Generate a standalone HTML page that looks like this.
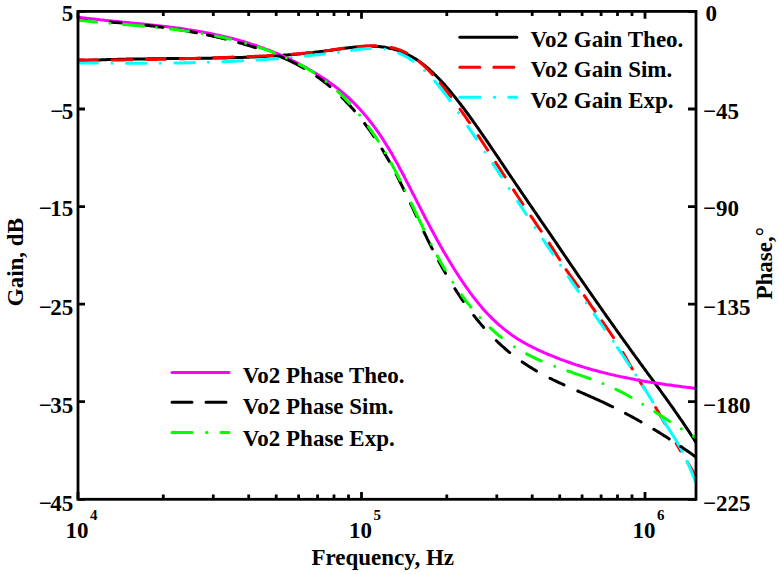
<!DOCTYPE html><html><head><meta charset="utf-8"><style>html,body{margin:0;padding:0;background:#fff;width:779px;height:574px;overflow:hidden}svg{display:block}text{font-family:"Liberation Serif",serif;font-weight:bold}</style></head><body>
<svg width="779" height="574" viewBox="0 0 779 574">
<rect width="779" height="574" fill="#fff"/>
<defs><clipPath id="c"><rect x="78.0" y="11.4" width="618.0" height="487.90000000000003"/></clipPath></defs>
<g clip-path="url(#c)" fill="none" stroke-width="3" stroke-linejoin="round" stroke-linecap="round">
<path d="M76.0,60.9 L77.5,60.8 L79.0,60.8 L80.5,60.7 L82.0,60.6 L83.5,60.5 L85.0,60.5 L86.5,60.4 L88.0,60.3 L89.5,60.3 L91.0,60.2 L92.5,60.1 L94.0,60.1 L95.5,60.0 L97.0,60.0 L98.5,59.9 L100.0,59.9 L101.5,59.8 L103.0,59.8 L104.5,59.7 L106.0,59.7 L107.5,59.6 L109.0,59.6 L110.5,59.5 L112.0,59.5 L113.5,59.4 L115.0,59.4 L116.5,59.4 L118.0,59.3 L119.5,59.3 L121.0,59.3 L122.5,59.2 L124.0,59.2 L125.5,59.2 L127.0,59.1 L128.5,59.1 L130.0,59.1 L131.5,59.1 L133.0,59.0 L134.5,59.0 L136.0,59.0 L137.5,59.0 L139.0,59.0 L140.5,58.9 L142.0,58.9 L143.5,58.9 L145.0,58.9 L146.5,58.9 L148.0,58.8 L149.5,58.8 L151.0,58.8 L152.5,58.8 L154.0,58.8 L155.5,58.8 L157.0,58.7 L158.5,58.7 L160.0,58.7 L161.5,58.7 L163.0,58.7 L164.5,58.7 L166.0,58.7 L167.5,58.6 L169.0,58.6 L170.5,58.6 L172.0,58.6 L173.5,58.6 L175.0,58.6 L176.5,58.6 L178.0,58.6 L179.5,58.5 L181.0,58.5 L182.5,58.5 L184.0,58.5 L185.5,58.5 L187.0,58.5 L188.5,58.5 L190.0,58.4 L191.5,58.4 L193.0,58.4 L194.5,58.4 L196.0,58.4 L197.5,58.4 L199.0,58.3 L200.5,58.3 L202.0,58.3 L203.5,58.3 L205.0,58.3 L206.5,58.2 L208.0,58.2 L209.5,58.2 L211.0,58.2 L212.5,58.1 L214.0,58.1 L215.5,58.1 L217.0,58.1 L218.5,58.0 L220.0,58.0 L221.5,58.0 L223.0,57.9 L224.5,57.9 L226.0,57.9 L227.5,57.8 L229.0,57.8 L230.5,57.7 L232.0,57.7 L233.5,57.7 L235.0,57.6 L236.5,57.6 L238.0,57.5 L239.5,57.5 L241.0,57.4 L242.5,57.4 L244.0,57.3 L245.5,57.3 L247.0,57.2 L248.5,57.2 L250.0,57.1 L251.5,57.0 L253.0,57.0 L254.5,56.9 L256.0,56.8 L257.5,56.8 L259.0,56.7 L260.5,56.6 L262.0,56.5 L263.5,56.5 L265.0,56.4 L266.5,56.3 L268.0,56.2 L269.5,56.1 L271.0,56.0 L272.5,56.0 L274.0,55.9 L275.5,55.8 L277.0,55.7 L278.5,55.6 L280.0,55.5 L281.5,55.4 L283.0,55.3 L284.5,55.1 L286.0,55.0 L287.5,54.9 L289.0,54.8 L290.5,54.7 L292.0,54.5 L293.5,54.4 L295.0,54.3 L296.5,54.2 L298.0,54.0 L299.5,53.9 L301.0,53.7 L302.5,53.6 L304.0,53.4 L305.5,53.3 L307.0,53.1 L308.5,53.0 L310.0,52.8 L311.5,52.7 L313.0,52.5 L314.5,52.3 L316.0,52.1 L317.5,52.0 L319.0,51.8 L320.5,51.6 L322.0,51.4 L323.5,51.2 L325.0,51.0 L326.5,50.8 L328.0,50.6 L329.5,50.4 L331.0,50.2 L332.5,50.0 L334.0,49.8 L335.5,49.6 L337.0,49.4 L338.5,49.1 L340.0,48.9 L341.5,48.7 L343.0,48.5 L344.5,48.3 L346.0,48.1 L347.5,47.9 L349.0,47.7 L350.5,47.5 L352.0,47.4 L353.5,47.2 L355.0,47.0 L356.5,46.9 L358.0,46.8 L359.5,46.6 L361.0,46.5 L362.5,46.4 L364.0,46.4 L365.5,46.3 L367.0,46.3 L368.5,46.2 L370.0,46.2 L371.5,46.2 L373.0,46.3 L374.5,46.3 L376.0,46.4 L377.5,46.5 L379.0,46.6 L380.5,46.7 L382.0,46.9 L383.5,47.1 L385.0,47.3 L386.5,47.6 L388.0,47.9 L389.5,48.2 L391.0,48.5 L392.5,48.9 L394.0,49.3 L395.5,49.7 L397.0,50.2 L398.5,50.7 L400.0,51.2 L401.5,51.8 L403.0,52.4 L404.5,53.1 L406.0,53.7 L407.5,54.5 L409.0,55.2 L410.5,56.0 L412.0,56.8 L413.5,57.7 L415.0,58.6 L416.5,59.6 L418.0,60.6 L419.5,61.6 L421.0,62.7 L422.5,63.8 L424.0,65.0 L425.5,66.2 L427.0,67.4 L428.5,68.7 L430.0,70.1 L431.5,71.4 L433.0,72.8 L434.5,74.3 L436.0,75.7 L437.5,77.2 L439.0,78.8 L440.5,80.4 L442.0,82.0 L443.5,83.6 L445.0,85.3 L446.5,87.0 L448.0,88.7 L449.5,90.5 L451.0,92.3 L452.5,94.1 L454.0,95.9 L455.5,97.8 L457.0,99.7 L458.5,101.6 L460.0,103.5 L461.5,105.5 L463.0,107.4 L464.5,109.4 L466.0,111.5 L467.5,113.5 L469.0,115.5 L470.5,117.6 L472.0,119.7 L473.5,121.8 L475.0,123.9 L476.5,126.0 L478.0,128.2 L479.5,130.3 L481.0,132.5 L482.5,134.7 L484.0,136.8 L485.5,139.0 L487.0,141.2 L488.5,143.4 L490.0,145.6 L491.5,147.8 L493.0,150.0 L494.5,152.3 L496.0,154.5 L497.5,156.7 L499.0,158.9 L500.5,161.2 L502.0,163.4 L503.5,165.6 L505.0,167.9 L506.5,170.1 L508.0,172.3 L509.5,174.6 L511.0,176.8 L512.5,179.0 L514.0,181.3 L515.5,183.5 L517.0,185.7 L518.5,187.9 L520.0,190.1 L521.5,192.3 L523.0,194.5 L524.5,196.7 L526.0,198.9 L527.5,201.1 L529.0,203.3 L530.5,205.5 L532.0,207.7 L533.5,209.9 L535.0,212.0 L536.5,214.2 L538.0,216.4 L539.5,218.6 L541.0,220.8 L542.5,223.0 L544.0,225.2 L545.5,227.3 L547.0,229.5 L548.5,231.7 L550.0,233.9 L551.5,236.1 L553.0,238.3 L554.5,240.5 L556.0,242.7 L557.5,244.9 L559.0,247.1 L560.5,249.3 L562.0,251.6 L563.5,253.8 L565.0,256.0 L566.5,258.2 L568.0,260.4 L569.5,262.6 L571.0,264.8 L572.5,267.0 L574.0,269.2 L575.5,271.4 L577.0,273.6 L578.5,275.8 L580.0,278.0 L581.5,280.1 L583.0,282.3 L584.5,284.5 L586.0,286.7 L587.5,288.8 L589.0,291.0 L590.5,293.2 L592.0,295.3 L593.5,297.5 L595.0,299.7 L596.5,301.8 L598.0,303.9 L599.5,306.1 L601.0,308.2 L602.5,310.4 L604.0,312.5 L605.5,314.6 L607.0,316.8 L608.5,318.9 L610.0,321.0 L611.5,323.1 L613.0,325.2 L614.5,327.3 L616.0,329.5 L617.5,331.6 L619.0,333.7 L620.5,335.8 L622.0,337.9 L623.5,340.0 L625.0,342.0 L626.5,344.1 L628.0,346.2 L629.5,348.3 L631.0,350.4 L632.5,352.5 L634.0,354.5 L635.5,356.6 L637.0,358.7 L638.5,360.7 L640.0,362.8 L641.5,364.8 L643.0,366.9 L644.5,369.0 L646.0,371.0 L647.5,373.1 L649.0,375.1 L650.5,377.1 L652.0,379.2 L653.5,381.2 L655.0,383.3 L656.5,385.3 L658.0,387.4 L659.5,389.4 L661.0,391.5 L662.5,393.6 L664.0,395.6 L665.5,397.7 L667.0,399.8 L668.5,401.9 L670.0,404.0 L671.5,406.1 L673.0,408.2 L674.5,410.3 L676.0,412.5 L677.5,414.6 L679.0,416.8 L680.5,419.0 L682.0,421.2 L683.5,423.4 L685.0,425.6 L686.5,427.9 L688.0,430.1 L689.5,432.4 L691.0,434.7 L692.5,437.0 L694.0,439.3 L695.5,441.7 L697.0,444.1" stroke="#000"/>
<path d="M77.5,59.8 L78.0,59.8 L79.5,59.8 L81.0,59.8 L82.5,59.8 L84.0,59.8 L85.5,59.9 L87.0,59.9 L88.5,59.9 L90.0,59.9 L91.5,59.9 L93.0,59.9 L94.5,59.9 L96.0,59.9 L97.4,59.9 M111.9,59.9 L112.5,59.9 L114.0,59.9 L115.5,59.9 L117.0,59.9 L118.5,59.9 L120.0,59.9 L121.5,59.9 L123.0,59.9 L124.5,59.8 L126.0,59.8 L127.5,59.8 L129.0,59.8 L130.5,59.8 L131.9,59.8 M146.5,59.5 L147.0,59.5 L148.5,59.5 L150.0,59.5 L151.5,59.5 L153.0,59.4 L154.5,59.4 L156.0,59.4 L157.5,59.3 L159.0,59.3 L160.5,59.3 L162.0,59.2 L163.5,59.2 L165.0,59.2 L165.0,59.2 M180.0,58.8 L181.5,58.8 L183.0,58.7 L184.5,58.7 L186.0,58.6 L187.5,58.6 L189.0,58.5 L190.5,58.5 L192.0,58.5 L193.5,58.4 L195.0,58.4 L196.5,58.3 L198.0,58.3 L199.5,58.2 L199.5,58.2 M214.0,57.8 L214.5,57.8 L216.0,57.7 L217.5,57.7 L219.0,57.6 L220.5,57.6 L222.0,57.5 L223.5,57.5 L225.0,57.4 L226.5,57.4 L228.0,57.3 L229.5,57.3 L231.0,57.2 L232.5,57.1 L233.5,57.1 M247.7,56.6 L249.0,56.6 L250.5,56.5 L252.0,56.4 L253.5,56.4 L255.0,56.3 L256.5,56.3 L258.0,56.2 L259.5,56.1 L261.0,56.1 L262.5,56.0 L264.0,55.9 L265.5,55.9 L267.0,55.8 L268.5,55.7 L270.0,55.6 L271.5,55.6 L273.0,55.5 L273.0,55.5 M291.8,54.3 L292.5,54.2 L294.0,54.1 L295.5,54.0 L297.0,53.9 L298.5,53.7 L300.0,53.6 L301.5,53.5 L303.0,53.3 L304.5,53.2 L306.0,53.0 L307.5,52.9 L309.0,52.7 L310.5,52.6 L311.4,52.5 M325.0,50.9 L325.5,50.8 L327.0,50.6 L328.5,50.4 L330.0,50.2 L331.5,49.9 L333.0,49.7 L334.5,49.5 L336.0,49.3 L337.5,49.1 L339.0,48.9 L340.5,48.7 L342.0,48.4 L343.3,48.3 M357.7,46.6 L358.5,46.5 L360.0,46.4 L361.5,46.3 L363.0,46.2 L364.5,46.1 L366.0,46.0 L367.5,45.9 L369.0,45.9 L370.5,45.8 L372.0,45.8 L373.5,45.8 L375.0,45.8 L376.5,45.9 L376.7,45.9 M390.9,47.4 L391.5,47.5 L393.0,47.9 L394.5,48.3 L396.0,48.7 L397.5,49.1 L399.0,49.6 L400.5,50.2 L402.0,50.8 L403.5,51.5 L405.0,52.2 L406.5,53.0 L406.9,53.2 M418.7,61.2 L420.0,62.3 L421.5,63.6 L423.0,64.9 L424.5,66.3 L426.0,67.8 L427.5,69.2 L429.0,70.7 L430.5,72.3 L432.0,73.9 L432.5,74.4 M440.3,83.2 L441.0,84.1 L442.5,85.9 L444.0,87.8 L445.5,89.7 L447.0,91.6 L448.5,93.5 L450.0,95.5 L450.9,96.7 M460.1,109.2 L460.5,109.8 L462.0,111.9 L463.5,114.1 L465.0,116.2 L466.5,118.4 L468.0,120.6 L469.5,122.7 M478.1,135.6 L478.5,136.1 L480.0,138.4 L481.5,140.6 L483.0,142.9 L484.5,145.2 L486.0,147.5 L487.5,149.8 L487.7,150.1 M495.6,162.3 L496.5,163.7 L498.0,166.0 L499.5,168.3 L501.0,170.6 L502.5,173.0 L504.0,175.3 L505.1,177.0 M513.5,189.9 L514.5,191.4 L516.0,193.7 L517.5,196.0 L519.0,198.3 L520.5,200.6 L522.0,202.8 L523.0,204.3 M530.9,216.1 L532.5,218.4 L534.0,220.6 L535.5,222.9 L537.0,225.1 L538.5,227.3 L540.0,229.5 L541.2,231.2 M549.1,243.2 L550.5,245.3 L552.0,247.6 L553.5,249.9 L555.0,252.3 L556.5,254.6 L558.0,257.0 L559.5,259.4 L559.7,259.7 M566.1,269.7 L567.0,270.9 L568.5,273.1 L570.0,275.2 L571.5,277.2 L573.0,279.3 L574.5,281.4 L576.0,283.5 L577.5,285.6 L578.5,286.9 M584.3,295.7 L585.0,296.7 L586.5,298.9 L588.0,301.1 L589.5,303.3 L591.0,305.5 L592.5,307.6 L594.0,309.7 L595.1,311.3 M601.9,320.8 L603.0,322.4 L604.5,324.5 L606.0,326.7 L607.5,328.9 L609.0,331.0 L610.5,333.2 L612.0,335.5 L613.5,337.7 M622.9,352.6 L624.0,354.5 L625.5,357.1 L627.0,359.7 L628.5,362.3 L630.0,364.9 L631.5,367.5 L632.3,368.9 M639.1,380.1 L640.5,382.4 L642.0,384.7 L643.5,387.0 L644.9,389.3 M655.7,407.5 L657.0,409.7 L658.5,412.3 L660.0,415.0 L661.5,417.7 L663.0,420.3 L664.5,423.0 L665.0,423.8 M676.2,443.4 L676.5,444.0 L678.0,446.5 L679.5,449.1 L680.6,450.9 M687.3,461.9 L688.5,463.9 L690.0,466.4 L691.5,468.9 L693.0,471.5 L694.5,474.0 L696.0,476.6 L697.3,478.7" stroke="#f00"/>
<path d="M77.5,62.8 L78.0,62.8 L79.5,62.8 L81.0,62.9 L82.5,62.9 L84.0,62.9 L85.5,62.9 L87.0,62.9 L88.5,62.9 L90.0,63.0 L91.5,63.0 L93.0,63.0 L94.5,63.0 L96.0,63.0 L97.4,63.0 M126.5,63.2 L127.5,63.2 L129.0,63.2 L130.5,63.2 L132.0,63.2 L133.5,63.2 L135.0,63.2 L136.5,63.2 L138.0,63.2 L139.5,63.2 L141.0,63.2 L142.5,63.2 L144.0,63.2 L145.5,63.2 L146.0,63.2 M174.8,63.0 L175.5,63.0 L177.0,63.0 L178.5,62.9 L180.0,62.9 L181.5,62.9 L183.0,62.9 L184.5,62.8 L186.0,62.8 L187.5,62.8 L189.0,62.8 L190.5,62.7 L192.0,62.7 L193.5,62.7 L194.3,62.6 M222.7,61.8 L223.5,61.7 L225.0,61.7 L226.5,61.6 L228.0,61.5 L229.5,61.5 L231.0,61.4 L232.5,61.3 L234.0,61.3 L235.5,61.2 L237.0,61.1 L238.5,61.0 L240.0,61.0 L241.5,60.9 L242.6,60.8 M256.9,60.0 L258.0,59.9 L259.5,59.8 L261.0,59.8 L262.5,59.7 L264.0,59.6 L265.5,59.4 L267.0,59.3 L268.5,59.2 L270.0,59.1 L271.5,59.0 L273.0,58.9 L274.5,58.8 L276.0,58.7 L277.5,58.6 L277.5,58.6 M305.2,56.1 L306.0,56.0 L307.5,55.8 L309.0,55.7 L310.5,55.5 L312.0,55.3 L313.5,55.2 L315.0,55.0 L316.5,54.8 L318.0,54.7 L319.5,54.5 L321.0,54.3 L322.5,54.2 L324.0,54.0 L324.5,53.9 M351.5,50.4 L352.5,50.3 L354.0,50.1 L355.5,49.9 L357.0,49.7 L358.5,49.5 L360.0,49.3 L361.5,49.1 L363.0,48.9 L364.5,48.8 L366.0,48.7 L367.5,48.6 L369.0,48.5 L370.5,48.4 L370.5,48.4 M398.6,53.1 L399.0,53.2 L400.5,53.9 L402.0,54.6 L403.5,55.3 L405.0,56.1 L406.5,56.9 L408.0,57.8 L409.5,58.7 L411.0,59.7 L412.5,60.7 L413.3,61.2 M434.8,81.1 L435.0,81.4 L436.5,83.1 L438.0,84.9 L439.5,86.8 L441.0,88.7 L442.5,90.6 L444.0,92.5 L445.5,94.5 L447.0,96.6 L448.5,98.6 L449.9,100.6 M467.7,126.3 L468.0,126.6 L469.5,128.8 L471.0,131.0 L472.5,133.3 L474.0,135.5 L475.5,137.7 L476.5,139.1 M492.8,163.7 L493.5,164.7 L495.0,167.0 L496.5,169.2 L498.0,171.5 L499.5,173.8 L501.0,176.1 L501.6,176.9 M517.7,201.4 L519.0,203.3 L520.5,205.6 L522.0,207.9 L523.5,210.2 L525.0,212.4 L526.5,214.6 M542.8,239.2 L544.5,241.6 L546.0,243.9 L547.5,246.1 L549.0,248.3 L550.5,250.5 L552.0,252.8 L553.0,254.2 M568.2,276.6 L568.5,277.0 L570.0,279.2 L571.5,281.4 L573.0,283.6 L574.5,285.7 L576.0,287.9 L577.5,290.1 L578.4,291.5 M594.2,314.1 L595.5,316.0 L597.0,318.1 L598.5,320.3 L600.0,322.4 L601.5,324.6 L603.0,326.7 L604.5,328.9 L604.6,329.1 M617.4,347.6 L618.0,348.4 L619.5,350.6 L621.0,352.8 L622.5,355.0 L624.0,357.2 L625.5,359.4 L627.0,361.7 L628.5,363.9 L630.0,366.1 M642.8,385.9 L643.5,387.0 L645.0,389.4 L646.5,391.8 L648.0,394.2 L649.5,396.6 L651.0,399.1 L652.5,401.6 L652.7,402.0 M661.5,417.1 L663.0,419.7 L664.5,422.2 L666.0,424.6 L667.5,427.0 L669.0,429.3 L670.5,431.7 L672.0,434.0 L673.5,436.3 L675.0,438.7 L676.5,441.2 L678.0,443.7 L679.5,446.3 L681.0,449.0 L682.4,451.7 M687.0,461.4 L688.5,464.7 L690.0,468.2 L691.5,471.7 L693.0,475.3 L694.5,478.9 L696.0,482.5 L697.4,486.0 M112.0,63.2 l0.01,0 M160.2,63.2 l0.01,0 M208.3,62.3 l0.01,0 M291.3,57.4 l0.01,0 M338.3,52.2 l0.01,0 M385.0,49.1 l0.01,0 M424.5,70.4 l0.01,0 M458.5,112.8 l0.01,0 M485.0,151.9 l0.01,0 M509.2,188.5 l0.01,0 M535.0,227.5 l0.01,0 M560.5,265.3 l0.01,0 M586.3,302.8 l0.01,0 M613.1,341.3 l0.01,0 M635.8,375.0 l0.01,0" stroke="#0ff"/>
<path d="M76.0,16.9 L77.5,17.1 L79.0,17.3 L80.5,17.5 L82.0,17.7 L83.5,17.9 L85.0,18.1 L86.5,18.3 L88.0,18.4 L89.5,18.6 L91.0,18.8 L92.5,19.0 L94.0,19.1 L95.5,19.3 L97.0,19.5 L98.5,19.6 L100.0,19.8 L101.5,19.9 L103.0,20.1 L104.5,20.3 L106.0,20.4 L107.5,20.6 L109.0,20.7 L110.5,20.9 L112.0,21.0 L113.5,21.2 L115.0,21.3 L116.5,21.5 L118.0,21.6 L119.5,21.8 L121.0,21.9 L122.5,22.1 L124.0,22.2 L125.5,22.3 L127.0,22.5 L128.5,22.6 L130.0,22.8 L131.5,22.9 L133.0,23.1 L134.5,23.2 L136.0,23.4 L137.5,23.5 L139.0,23.7 L140.5,23.8 L142.0,24.0 L143.5,24.1 L145.0,24.3 L146.5,24.4 L148.0,24.6 L149.5,24.7 L151.0,24.9 L152.5,25.1 L154.0,25.2 L155.5,25.4 L157.0,25.6 L158.5,25.7 L160.0,25.9 L161.5,26.1 L163.0,26.2 L164.5,26.4 L166.0,26.6 L167.5,26.8 L169.0,27.0 L170.5,27.2 L172.0,27.4 L173.5,27.5 L175.0,27.7 L176.5,27.9 L178.0,28.1 L179.5,28.3 L181.0,28.6 L182.5,28.8 L184.0,29.0 L185.5,29.2 L187.0,29.4 L188.5,29.7 L190.0,29.9 L191.5,30.1 L193.0,30.4 L194.5,30.6 L196.0,30.9 L197.5,31.1 L199.0,31.4 L200.5,31.6 L202.0,31.9 L203.5,32.2 L205.0,32.5 L206.5,32.7 L208.0,33.0 L209.5,33.3 L211.0,33.6 L212.5,33.9 L214.0,34.2 L215.5,34.6 L217.0,34.9 L218.5,35.2 L220.0,35.5 L221.5,35.9 L223.0,36.2 L224.5,36.6 L226.0,36.9 L227.5,37.3 L229.0,37.7 L230.5,38.0 L232.0,38.4 L233.5,38.8 L235.0,39.2 L236.5,39.6 L238.0,40.0 L239.5,40.4 L241.0,40.9 L242.5,41.3 L244.0,41.7 L245.5,42.2 L247.0,42.6 L248.5,43.1 L250.0,43.6 L251.5,44.1 L253.0,44.6 L254.5,45.0 L256.0,45.5 L257.5,46.1 L259.0,46.6 L260.5,47.1 L262.0,47.6 L263.5,48.2 L265.0,48.8 L266.5,49.3 L268.0,49.9 L269.5,50.5 L271.0,51.1 L272.5,51.7 L274.0,52.3 L275.5,52.9 L277.0,53.5 L278.5,54.2 L280.0,54.8 L281.5,55.5 L283.0,56.1 L284.5,56.8 L286.0,57.5 L287.5,58.2 L289.0,58.9 L290.5,59.6 L292.0,60.4 L293.5,61.1 L295.0,61.8 L296.5,62.6 L298.0,63.4 L299.5,64.2 L301.0,65.0 L302.5,65.8 L304.0,66.6 L305.5,67.4 L307.0,68.3 L308.5,69.1 L310.0,70.0 L311.5,70.8 L313.0,71.7 L314.5,72.6 L316.0,73.5 L317.5,74.5 L319.0,75.4 L320.5,76.4 L322.0,77.3 L323.5,78.3 L325.0,79.3 L326.5,80.3 L328.0,81.3 L329.5,82.4 L331.0,83.5 L332.5,84.6 L334.0,85.7 L335.5,86.8 L337.0,88.0 L338.5,89.2 L340.0,90.4 L341.5,91.6 L343.0,92.9 L344.5,94.2 L346.0,95.5 L347.5,96.8 L349.0,98.2 L350.5,99.6 L352.0,101.1 L353.5,102.5 L355.0,104.1 L356.5,105.6 L358.0,107.2 L359.5,108.8 L361.0,110.4 L362.5,112.1 L364.0,113.9 L365.5,115.6 L367.0,117.4 L368.5,119.3 L370.0,121.2 L371.5,123.1 L373.0,125.1 L374.5,127.1 L376.0,129.2 L377.5,131.3 L379.0,133.4 L380.5,135.6 L382.0,137.9 L383.5,140.2 L385.0,142.6 L386.5,145.0 L388.0,147.4 L389.5,149.9 L391.0,152.5 L392.5,155.1 L394.0,157.7 L395.5,160.4 L397.0,163.1 L398.5,165.9 L400.0,168.7 L401.5,171.5 L403.0,174.3 L404.5,177.2 L406.0,180.1 L407.5,183.0 L409.0,185.9 L410.5,188.8 L412.0,191.8 L413.5,194.7 L415.0,197.7 L416.5,200.6 L418.0,203.6 L419.5,206.5 L421.0,209.4 L422.5,212.4 L424.0,215.3 L425.5,218.2 L427.0,221.1 L428.5,223.9 L430.0,226.7 L431.5,229.6 L433.0,232.3 L434.5,235.1 L436.0,237.8 L437.5,240.6 L439.0,243.3 L440.5,245.9 L442.0,248.6 L443.5,251.2 L445.0,253.8 L446.5,256.3 L448.0,258.8 L449.5,261.3 L451.0,263.8 L452.5,266.3 L454.0,268.7 L455.5,271.0 L457.0,273.4 L458.5,275.7 L460.0,278.0 L461.5,280.3 L463.0,282.5 L464.5,284.7 L466.0,286.8 L467.5,288.9 L469.0,291.0 L470.5,293.1 L472.0,295.1 L473.5,297.1 L475.0,299.0 L476.5,300.9 L478.0,302.8 L479.5,304.6 L481.0,306.4 L482.5,308.2 L484.0,309.9 L485.5,311.6 L487.0,313.2 L488.5,314.8 L490.0,316.3 L491.5,317.9 L493.0,319.3 L494.5,320.8 L496.0,322.2 L497.5,323.5 L499.0,324.9 L500.5,326.2 L502.0,327.4 L503.5,328.7 L505.0,329.9 L506.5,331.0 L508.0,332.2 L509.5,333.3 L511.0,334.4 L512.5,335.4 L514.0,336.4 L515.5,337.4 L517.0,338.4 L518.5,339.4 L520.0,340.3 L521.5,341.2 L523.0,342.1 L524.5,342.9 L526.0,343.8 L527.5,344.6 L529.0,345.4 L530.5,346.2 L532.0,346.9 L533.5,347.7 L535.0,348.4 L536.5,349.2 L538.0,349.9 L539.5,350.6 L541.0,351.2 L542.5,351.9 L544.0,352.6 L545.5,353.2 L547.0,353.9 L548.5,354.5 L550.0,355.1 L551.5,355.7 L553.0,356.3 L554.5,356.9 L556.0,357.5 L557.5,358.1 L559.0,358.7 L560.5,359.3 L562.0,359.8 L563.5,360.4 L565.0,360.9 L566.5,361.5 L568.0,362.0 L569.5,362.5 L571.0,363.0 L572.5,363.6 L574.0,364.1 L575.5,364.6 L577.0,365.0 L578.5,365.5 L580.0,366.0 L581.5,366.5 L583.0,366.9 L584.5,367.4 L586.0,367.8 L587.5,368.3 L589.0,368.7 L590.5,369.2 L592.0,369.6 L593.5,370.0 L595.0,370.4 L596.5,370.8 L598.0,371.2 L599.5,371.6 L601.0,372.0 L602.5,372.4 L604.0,372.8 L605.5,373.1 L607.0,373.5 L608.5,373.9 L610.0,374.2 L611.5,374.6 L613.0,374.9 L614.5,375.3 L616.0,375.6 L617.5,375.9 L619.0,376.3 L620.5,376.6 L622.0,376.9 L623.5,377.2 L625.0,377.5 L626.5,377.8 L628.0,378.1 L629.5,378.4 L631.0,378.7 L632.5,379.0 L634.0,379.3 L635.5,379.6 L637.0,379.9 L638.5,380.1 L640.0,380.4 L641.5,380.7 L643.0,380.9 L644.5,381.2 L646.0,381.4 L647.5,381.7 L649.0,381.9 L650.5,382.2 L652.0,382.4 L653.5,382.7 L655.0,382.9 L656.5,383.1 L658.0,383.3 L659.5,383.6 L661.0,383.8 L662.5,384.0 L664.0,384.2 L665.5,384.5 L667.0,384.7 L668.5,384.9 L670.0,385.1 L671.5,385.3 L673.0,385.5 L674.5,385.7 L676.0,385.9 L677.5,386.1 L679.0,386.3 L680.5,386.5 L682.0,386.7 L683.5,386.9 L685.0,387.1 L686.5,387.3 L688.0,387.4 L689.5,387.6 L691.0,387.8 L692.5,388.0 L694.0,388.2 L695.5,388.4 L697.0,388.5" stroke="#f0f"/>
<path d="M77.5,20.2 L78.0,20.2 L79.5,20.3 L81.0,20.3 L82.5,20.4 L84.0,20.5 L85.5,20.6 L86.5,20.6 M110.3,22.1 L111.0,22.2 L112.5,22.3 L114.0,22.4 L115.5,22.5 L117.0,22.6 L118.5,22.7 L120.0,22.8 L121.2,22.9 M145.8,25.3 L147.0,25.4 L148.5,25.6 L150.0,25.8 L151.5,25.9 L153.0,26.1 L154.5,26.3 L156.0,26.5 L157.5,26.7 L159.0,26.9 L160.5,27.1 L162.0,27.3 L162.8,27.4 M179.5,29.8 L180.0,29.9 L181.5,30.1 L183.0,30.4 L184.5,30.6 L186.0,30.9 L187.5,31.2 L189.0,31.4 L190.5,31.7 L192.0,32.0 L193.5,32.2 L195.0,32.5 L196.5,32.8 L196.5,32.8 M207.5,35.0 L208.5,35.2 L210.0,35.5 L211.5,35.9 L213.0,36.2 L214.5,36.5 L216.0,36.9 L217.5,37.2 L219.0,37.6 L220.5,37.9 L222.0,38.3 L223.5,38.6 L225.0,39.0 L225.5,39.1 M238.6,42.6 L240.0,43.0 L241.5,43.4 L243.0,43.8 L244.5,44.3 L246.0,44.7 L247.5,45.2 L249.0,45.6 L250.5,46.1 L252.0,46.5 L253.5,47.0 L255.0,47.5 L255.7,47.7 M278.4,55.9 L279.0,56.1 L280.5,56.7 L282.0,57.4 L283.5,58.0 L285.0,58.7 L286.5,59.3 L288.0,60.0 L289.5,60.7 L291.0,61.4 L292.5,62.2 L294.0,62.9 L295.5,63.7 L297.0,64.5 L298.5,65.3 L300.0,66.1 L301.5,66.9 L303.0,67.7 L303.9,68.3 M316.7,76.4 L318.0,77.3 L319.5,78.4 L321.0,79.5 L322.5,80.6 L324.0,81.8 L325.5,82.9 L327.0,84.1 L328.5,85.3 L330.0,86.6 M341.8,97.3 L342.0,97.5 L343.5,99.0 L345.0,100.5 L346.5,102.1 L348.0,103.7 L349.5,105.3 L351.0,106.9 L352.5,108.6 L354.0,110.3 L354.4,110.8 M364.7,123.5 L366.0,125.3 L367.5,127.3 L369.0,129.4 L370.5,131.5 L372.0,133.6 L373.5,135.8 L374.1,136.7 M382.0,149.0 L382.5,149.8 L384.0,152.3 L385.5,154.9 L387.0,157.4 L388.5,160.1 L389.5,161.8 M396.2,174.3 L397.5,176.8 L399.0,179.8 L400.5,182.8 L402.0,185.8 L403.5,188.9 L404.2,190.4 M410.5,203.6 L411.0,204.5 L412.5,207.7 L414.0,210.9 L415.5,214.1 L416.6,216.4 M423.9,232.0 L424.5,233.1 L426.0,236.2 L427.5,239.3 L429.0,242.3 L430.5,245.3 L432.0,248.3 L432.3,248.9 M438.7,261.1 L439.5,262.5 L441.0,265.3 L442.5,267.9 L444.0,270.6 L445.5,273.2 L445.5,273.3 M454.9,288.7 L456.0,290.4 L457.5,292.7 L459.0,295.0 L460.5,297.2 L462.0,299.4 L463.4,301.5 M473.8,315.5 L475.5,317.6 L477.0,319.5 L478.5,321.3 L480.0,323.1 L481.5,324.9 L483.0,326.6 L483.7,327.4 M496.3,340.6 L496.5,340.8 L498.0,342.3 L499.5,343.7 L501.0,345.1 L502.5,346.4 L504.0,347.7 L505.5,349.0 L507.0,350.3 L508.5,351.6 L509.7,352.6 M522.2,361.9 L523.5,362.8 L525.0,363.8 L526.5,364.8 L528.0,365.8 L529.5,366.7 L531.0,367.6 L532.5,368.6 L534.0,369.5 L535.5,370.4 L536.4,370.9 M550.0,378.3 L550.5,378.5 L552.0,379.2 L553.5,380.0 L555.0,380.7 L556.5,381.4 L558.0,382.1 L559.5,382.8 L561.0,383.5 L562.5,384.2 L564.0,384.9 L564.0,384.9 M577.8,391.0 L579.0,391.5 L580.5,392.2 L582.0,392.8 L583.5,393.5 L585.0,394.1 L586.5,394.8 L588.0,395.5 L589.5,396.1 L591.0,396.8 L592.5,397.4 L594.0,398.1 L595.5,398.8 L597.0,399.5 L598.5,400.1 L600.0,400.8 L601.5,401.5 L603.0,402.2 L604.5,402.9 L606.0,403.6 L607.5,404.4 L609.0,405.1 L610.5,405.8 L612.0,406.5 L612.6,406.8 M625.5,413.4 L627.0,414.2 L628.5,415.0 L630.0,415.8 L631.5,416.6 L633.0,417.4 L634.5,418.2 L636.0,419.0 L637.5,419.9 L639.0,420.7 L640.5,421.5 L641.1,421.9 M653.8,429.3 L654.0,429.4 L655.5,430.3 L657.0,431.2 L658.5,432.1 L660.0,433.0 L661.5,434.0 L663.0,434.9 L664.5,435.9 L666.0,436.8 L667.5,437.8 L669.0,438.7 L669.2,438.9 M680.7,446.5 L681.0,446.6 L682.5,447.6 L684.0,448.7 L685.5,449.7 L687.0,450.7 L688.5,451.8 L690.0,452.8 L691.5,453.9 L693.0,455.0 L694.5,456.0 L696.0,457.1 L696.8,457.7" stroke="#000"/>
<path d="M77.5,20.1 L78.0,20.2 L79.5,20.4 L81.0,20.5 L82.5,20.7 L84.0,20.8 L85.5,21.0 L87.0,21.1 L88.5,21.3 L90.0,21.4 L91.5,21.6 L93.0,21.7 L94.5,21.9 L96.0,22.0 L96.5,22.1 M123.5,24.4 L124.5,24.5 L126.0,24.6 L127.5,24.8 L129.0,24.9 L130.5,25.0 L132.0,25.2 L133.5,25.3 L135.0,25.4 L136.5,25.6 L138.0,25.7 L139.5,25.8 L141.0,26.0 L142.5,26.1 L143.5,26.2 M170.5,29.0 L171.0,29.0 L172.5,29.2 L174.0,29.4 L175.5,29.6 L177.0,29.8 L178.5,30.0 L180.0,30.1 L181.5,30.3 L183.0,30.5 L184.5,30.8 L186.0,31.0 L187.5,31.2 L188.5,31.3 M215.5,35.9 L216.0,36.0 L217.5,36.4 L219.0,36.7 L220.5,37.0 L222.0,37.3 L223.5,37.6 L225.0,38.0 L226.5,38.3 L228.0,38.7 L229.5,39.0 L230.5,39.3 M258.0,47.1 L259.5,47.5 L261.0,48.0 L262.5,48.6 L264.0,49.1 L265.5,49.6 L267.0,50.1 L268.5,50.7 L270.0,51.2 L271.5,51.8 L273.0,52.4 L274.5,53.0 L274.6,53.0 M299.2,64.2 L300.0,64.6 L301.5,65.4 L303.0,66.2 L304.5,67.1 L306.0,67.9 L307.5,68.8 L309.0,69.7 L310.5,70.6 L312.0,71.6 L313.5,72.5 L313.7,72.7 M337.6,91.3 L339.0,92.6 L340.5,94.0 L342.0,95.5 L343.5,97.0 L345.0,98.5 L346.5,100.1 L348.0,101.6 L349.5,103.3 L349.7,103.5 M368.5,126.7 L369.0,127.5 L370.5,129.6 L372.0,131.8 L373.5,134.0 L375.0,136.2 L376.5,138.5 L378.0,140.8 L378.2,141.2 M390.9,162.8 L391.5,163.8 L393.0,166.6 L394.5,169.4 L396.0,172.3 L397.5,175.2 L399.0,178.2 L400.0,180.2 M411.1,203.0 L412.5,205.9 L414.0,209.0 L415.5,212.1 L417.0,215.3 L418.5,218.4 L420.0,221.5 L421.5,224.7 L423.0,227.8 L423.8,229.5 M437.2,255.8 L438.0,257.2 L439.5,260.0 L441.0,262.7 L442.5,265.3 L444.0,267.9 L445.2,270.0 M461.5,294.9 L462.0,295.6 L463.5,297.6 L465.0,299.6 L466.5,301.6 L468.0,303.5 L469.5,305.4 L470.8,307.1 M490.1,327.8 L490.5,328.2 L492.0,329.5 L493.5,330.9 L495.0,332.2 L496.5,333.5 L498.0,334.8 L499.5,336.0 L501.0,337.2 L501.5,337.6 M526.6,353.9 L528.0,354.7 L529.5,355.4 L531.0,356.2 L532.5,356.9 L534.0,357.7 L535.5,358.4 L537.0,359.1 L538.5,359.7 L540.0,360.4 L541.2,360.9 M567.8,371.0 L568.5,371.2 L570.0,371.7 L571.5,372.2 L573.0,372.8 L574.5,373.3 L576.0,373.8 L577.5,374.3 L579.0,374.8 L580.5,375.3 L582.0,375.8 L583.5,376.3 L585.0,376.9 L586.5,377.4 L588.0,377.9 L589.5,378.5 L590.1,378.7 M615.8,389.2 L616.5,389.6 L618.0,390.3 L619.5,391.1 L621.0,391.9 L622.5,392.6 L624.0,393.4 L625.5,394.2 L627.0,395.0 L628.5,395.9 L630.0,396.7 L631.1,397.3 M654.7,411.7 L655.5,412.2 L657.0,413.2 L658.5,414.1 L660.0,415.1 L661.5,416.0 L663.0,417.0 L664.5,418.0 L666.0,419.0 L667.5,419.9 L669.0,420.9 L669.7,421.4 M693.5,436.3 L694.5,436.9 L696.0,437.8 L696.7,438.2 M109.9,23.3 l0.01,0 M156.4,27.4 l0.01,0 M202.0,33.4 l0.01,0 M245.6,43.2 l0.01,0 M286.4,57.9 l0.01,0 M326.0,81.5 l0.01,0 M359.6,115.1 l0.01,0 M385.3,152.8 l0.01,0 M404.9,190.1 l0.01,0 M431.2,244.3 l0.01,0 M452.8,282.2 l0.01,0 M480.0,317.6 l0.01,0 M514.4,346.8 l0.01,0 M554.7,366.3 l0.01,0 M602.9,383.6 l0.01,0 M642.7,404.2 l0.01,0 M681.4,428.8 l0.01,0" stroke="#0f0"/>
</g>
<rect x="78.0" y="11.4" width="618.0" height="487.90000000000003" fill="none" stroke="#000" stroke-width="2.8"/>
<path d="M78.0,11.4h7 M78.0,109.0h7 M78.0,206.6h7 M78.0,304.1h7 M78.0,401.7h7 M78.0,499.3h7 M696.0,11.4h-8 M696.0,109.0h-8 M696.0,206.6h-8 M696.0,304.1h-8 M696.0,401.7h-8 M696.0,499.3h-8 M78.0,499.3v-7.4 M78.0,11.4v7.4 M163.3,499.3v-4.7 M163.3,11.4v4.7 M213.3,499.3v-4.7 M213.3,11.4v4.7 M248.7,499.3v-4.7 M248.7,11.4v4.7 M276.2,499.3v-4.7 M276.2,11.4v4.7 M298.6,499.3v-4.7 M298.6,11.4v4.7 M317.6,499.3v-4.7 M317.6,11.4v4.7 M334.0,499.3v-4.7 M334.0,11.4v4.7 M348.5,499.3v-4.7 M348.5,11.4v4.7 M361.5,499.3v-7.4 M361.5,11.4v7.4 M446.8,499.3v-4.7 M446.8,11.4v4.7 M496.8,499.3v-4.7 M496.8,11.4v4.7 M532.2,499.3v-4.7 M532.2,11.4v4.7 M559.7,499.3v-4.7 M559.7,11.4v4.7 M582.1,499.3v-4.7 M582.1,11.4v4.7 M601.1,499.3v-4.7 M601.1,11.4v4.7 M617.5,499.3v-4.7 M617.5,11.4v4.7 M632.0,499.3v-4.7 M632.0,11.4v4.7 M645.0,499.3v-7.4 M645.0,11.4v7.4" stroke="#000" stroke-width="2.8" fill="none"/>
<text x="73.2" y="21" font-size="23" text-anchor="end">5</text>
<text x="73.2" y="118.6" font-size="23" text-anchor="end">−<tspan dx="-1.6">5</tspan></text>
<text x="73.2" y="216" font-size="23" text-anchor="end">−<tspan dx="-1.6">15</tspan></text>
<text x="73.2" y="314.7" font-size="23" text-anchor="end">−<tspan dx="-1.6">25</tspan></text>
<text x="73.2" y="412.6" font-size="23" text-anchor="end">−<tspan dx="-1.6">35</tspan></text>
<text x="73.2" y="510.8" font-size="23" text-anchor="end">−<tspan dx="-1.6">45</tspan></text>
<text x="705.5" y="21" font-size="23">0</text>
<text x="703" y="118.6" font-size="23">−45</text>
<text x="703" y="216" font-size="23">−90</text>
<text x="703" y="314.7" font-size="23">−135</text>
<text x="703" y="412.6" font-size="23">−180</text>
<text x="703" y="510.8" font-size="23">−225</text>
<text x="77.1" y="537.8" font-size="23" text-anchor="middle">10</text>
<text x="89.9" y="519.6" font-size="15">4</text>
<text x="360.6" y="537.8" font-size="23" text-anchor="middle">10</text>
<text x="373.4" y="519.6" font-size="15">5</text>
<text x="644.1" y="537.8" font-size="23" text-anchor="middle">10</text>
<text x="656.9" y="519.6" font-size="15">6</text>
<text x="311.4" y="564.8" font-size="23">Frequency, Hz</text>
<text transform="translate(23.4,306.2) rotate(-90)" font-size="23">Gain, dB</text>
<text transform="translate(771.8,299.6) rotate(-90)" font-size="23">Phase,°</text>
<path d="M459.8,37.2h57" stroke="#000" stroke-width="3" stroke-linecap="round"/>
<text x="530.6" y="46.6" font-size="23">Vo2 Gain Theo.</text>
<path d="M459.8,67.2h57" stroke="#f00" stroke-width="3" stroke-linecap="round" stroke-dasharray="20 14"/>
<text x="530.6" y="77.2" font-size="23">Vo2 Gain Sim.</text>
<path d="M459.8,97.2h57" stroke="#0ff" stroke-width="3" stroke-linecap="round" stroke-dasharray="20 14.5 0.5 14"/>
<text x="530.6" y="108.3" font-size="23">Vo2 Gain Exp.</text>
<path d="M172.0,372.5h57" stroke="#f0f" stroke-width="3" stroke-linecap="round"/>
<text x="242.8" y="382.9" font-size="23">Vo2 Phase Theo.</text>
<path d="M172.0,402.3h57" stroke="#000" stroke-width="3" stroke-linecap="round" stroke-dasharray="20 14"/>
<text x="242.8" y="413.9" font-size="23">Vo2 Phase Sim.</text>
<path d="M172.0,432.4h57" stroke="#0f0" stroke-width="3" stroke-linecap="round" stroke-dasharray="20 14.5 0.5 14"/>
<text x="242.8" y="445.7" font-size="23">Vo2 Phase Exp.</text>
</svg></body></html>
